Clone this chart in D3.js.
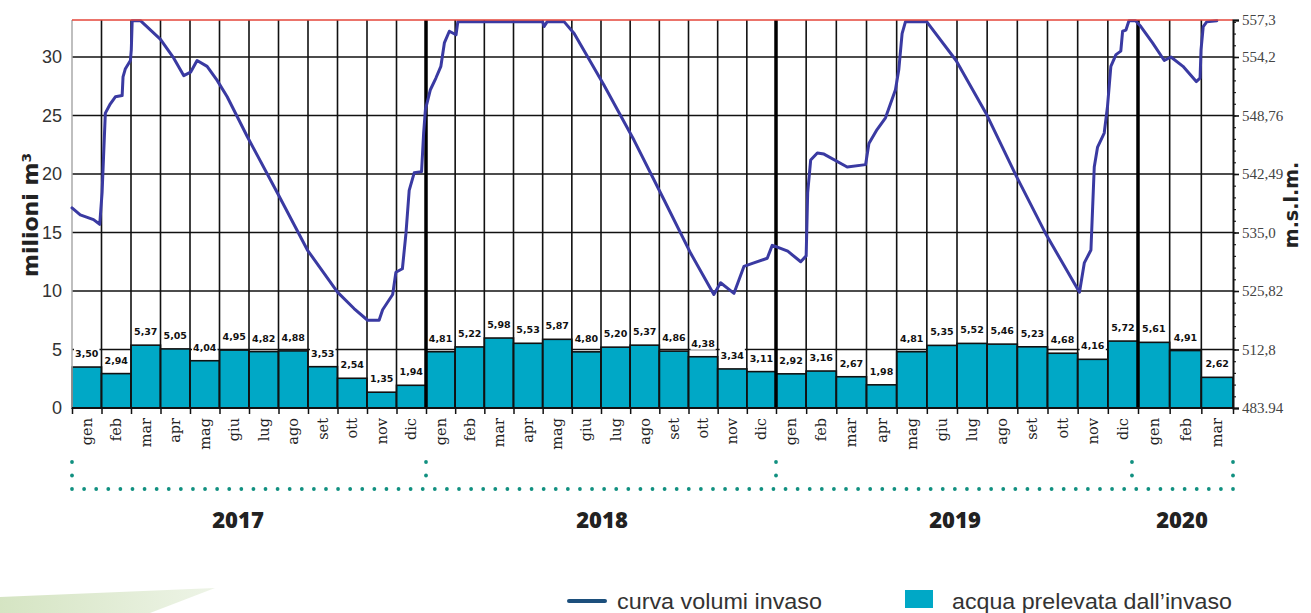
<!DOCTYPE html>
<html>
<head>
<meta charset="utf-8">
<script src="https://cdn.jsdelivr.net/npm/d3@7"></script>
<style>
  html, body { margin: 0; padding: 0; background: #fff; }
  svg { display: block; }
</style>
</head>
<body>
<svg id="chart" width="1311" height="613"></svg>
<script>
// Monthly labels, Jan 2017 – Mar 2020
const months = ["gen","feb","mar","apr","mag","giu","lug","ago","set","ott","nov","dic",
                "gen","feb","mar","apr","mag","giu","lug","ago","set","ott","nov","dic",
                "gen","feb","mar","apr","mag","giu","lug","ago","set","ott","nov","dic",
                "gen","feb","mar"];
const years = ["2017", "2018", "2019", "2020"];
const yearStart = [0, 12, 24, 36];

// Water drawn from the reservoir each month (million m³)
const withdrawn = [3.50, 2.94, 5.37, 5.05, 4.04, 4.95, 4.82, 4.88, 3.53, 2.54, 1.35, 1.94,
                   4.81, 5.22, 5.98, 5.53, 5.87, 4.80, 5.20, 5.37, 4.86, 4.38, 3.34, 3.11,
                   2.92, 3.16, 2.67, 1.98, 4.81, 5.35, 5.52, 5.46, 5.23, 4.68, 4.16, 5.72,
                   5.61, 4.91, 2.62];

// Stored volume curve: position in months from Jan 2017, volume in million m³
const curveMonth = [0, 0.28, 0.73, 0.94, 1.02, 1.07, 1.13, 1.30, 1.47, 1.70, 1.73, 1.81, 1.98, 2.01, 2.04, 2.32,
  3.0, 3.45, 3.79, 4.02, 4.24, 4.58, 4.92, 5.26, 5.94, 6.96, 7.98, 9.0, 9.56, 10.02, 10.41, 10.53,
  10.87, 10.98, 11.2, 11.32, 11.43, 11.6, 11.85, 11.92, 11.98,
  12.15, 12.34, 12.51, 12.63, 12.80, 13.03, 13.09, 16.0, 16.05, 16.15, 16.74, 17.08, 18.1, 19.13,
  20.16, 21.08, 21.87, 22.1, 22.56, 22.9, 23.24, 23.7, 23.87, 24.0,
  24.39, 24.82, 25.0, 25.05, 25.15, 25.37, 25.59, 26.36, 26.97, 27.08, 27.35, 27.63, 27.96, 28.07,
  28.18, 28.29, 29.0, 29.97, 30.96, 31.97, 32.96, 34.06, 34.22, 34.44, 34.55, 34.66, 34.88, 34.99,
  35.1, 35.27, 35.43, 35.49, 35.6, 35.7, 35.92,
  36.09, 36.46, 36.83, 37.04, 37.42, 37.84, 37.96, 37.99, 38.06, 38.17, 38.49];
const curveVolume = [17.1, 16.5, 16.1, 15.7, 18.4, 21.5, 25.2, 26.0, 26.6, 26.7, 28.3, 29.0, 29.7, 30.6, 33.1, 33.1,
  31.5, 29.9, 28.4, 28.7, 29.7, 29.2, 28.0, 26.6, 23.2, 18.4, 13.5, 9.9, 8.5, 7.5, 7.5, 8.4,
  9.7, 11.6, 11.9, 14.9, 18.6, 20.1, 20.2, 23.5, 25.5,
  27.2, 28.2, 29.2, 31.2, 32.2, 31.9, 33.0, 33.0, 32.6, 33.0, 33.0, 32.0, 27.6, 22.9,
  17.8, 13.2, 9.7, 10.7, 9.8, 12.1, 12.4, 12.8, 13.9, 13.8,
  13.4, 12.5, 13.0, 18.4, 21.2, 21.8, 21.7, 20.6, 20.8, 22.6, 23.8, 24.8, 27.2, 28.9,
  32.0, 33.0, 33.0, 29.7, 25.2, 19.8, 14.8, 9.9, 12.4, 13.5, 20.6, 22.3, 23.5, 25.8,
  29.2, 30.2, 30.5, 32.2, 32.3, 33.1, 33.1,
  32.6, 31.2, 29.7, 30.0, 29.2, 27.9, 28.2, 30.6, 32.6, 33.0, 33.1];

// Axis ticks
const leftTicks = [0, 5, 10, 15, 20, 25, 30];
const topVolume = 33.16;
const rightTicks = [0, 5, 10, 15, 20, 25, 30, topVolume];
const rightLabels = ["483.94", "512,8", "525,82", "535,0", "542,49", "548,76", "554,2", "557,3"];

const TEAL = "#00a8c6";
const CURVE = "#3a3aa2";
const DOT = "#119080";

const svg = d3.select("#chart");

// soft green corner swoosh
const defs = svg.append("defs");
const grad = defs.append("linearGradient").attr("id", "swoosh").attr("x1", "0").attr("x2", "1").attr("y1", "0").attr("y2", "0");
grad.append("stop").attr("offset", "0%").attr("stop-color", "#c3d9a9");
grad.append("stop").attr("offset", "100%").attr("stop-color", "#e6efdc");
svg.append("path").attr("d", "M0,597 L215,588 L150,613 L0,613 Z").attr("fill", "url(#swoosh)").attr("opacity", 0.7);

// Scales: columns are hand-spaced per year, so the month scale is piecewise linear
const x = d3.scaleLinear().domain([0, 12, 24, 36, 39]).range([72, 426, 776, 1138, 1233]);
const y = d3.scaleLinear().domain([0, topVolume]).range([408, 20]);

const left = x(0), right = x(39);

// horizontal gridlines
svg.append("g").selectAll("line").data(leftTicks.filter(d => d > 0)).join("line")
  .attr("x1", left).attr("x2", right)
  .attr("y1", d => y(d)).attr("y2", d => y(d))
  .attr("stroke", "#111").attr("stroke-width", 1.6);

// withdrawn-water bars
svg.append("g").selectAll("rect").data(withdrawn).join("rect")
  .attr("x", (d, i) => x(i))
  .attr("width", (d, i) => x(i + 1) - x(i))
  .attr("y", d => y(d))
  .attr("height", d => y(0) - y(d))
  .attr("fill", TEAL)
  .attr("stroke", "#111").attr("stroke-width", 1.6);

// value labels above bars
const labels = svg.append("g");
labels.selectAll("rect").data(withdrawn).join("rect")
  .attr("x", (d, i) => x(i) + 2)
  .attr("width", (d, i) => x(i + 1) - x(i) - 4)
  .attr("y", d => y(d) - 21)
  .attr("height", 14)
  .attr("fill", "#fff");
labels.selectAll("text").data(withdrawn).join("text")
  .attr("x", (d, i) => (x(i) + x(i + 1)) / 2)
  .attr("y", d => y(d) - 10)
  .attr("text-anchor", "middle")
  .attr("font-family", "'DejaVu Sans', sans-serif")
  .attr("font-weight", "bold")
  .attr("font-size", 9.5)
  .attr("fill", "#111")
  .text(d => d.toFixed(2).replace(".", ","));

// vertical month separators
svg.append("g").selectAll("line").data(d3.range(1, 39).filter(i => !yearStart.includes(i))).join("line")
  .attr("x1", i => x(i)).attr("x2", i => x(i))
  .attr("y1", y(topVolume)).attr("y2", y(0))
  .attr("stroke", "#111").attr("stroke-width", 1.6);

// thick year separators
svg.append("g").selectAll("line").data(yearStart.slice(1)).join("line")
  .attr("x1", i => x(i)).attr("x2", i => x(i))
  .attr("y1", y(topVolume)).attr("y2", y(0))
  .attr("stroke", "#000").attr("stroke-width", 3.5);

// plot frame: light left edge, black baseline
svg.append("line").attr("x1", left).attr("x2", left).attr("y1", y(topVolume)).attr("y2", y(0))
  .attr("stroke", "#aaa").attr("stroke-width", 1.5);
svg.append("line").attr("x1", left).attr("x2", right).attr("y1", y(0)).attr("y2", y(0))
  .attr("stroke", "#111").attr("stroke-width", 2);

// volume curve
const curvePts = curveMonth.map((m, i) => [m, curveVolume[i]]);
svg.append("path").datum(curvePts)
  .attr("d", d3.line().x(d => x(d[0])).y(d => y(d[1])))
  .attr("fill", "none").attr("stroke", CURVE).attr("stroke-width", 3)
  .attr("stroke-linejoin", "round").attr("stroke-linecap", "round");

// maximum-level line
svg.append("line").attr("x1", left).attr("x2", right).attr("y1", y(topVolume)).attr("y2", y(topVolume))
  .attr("stroke", "#e5463a").attr("stroke-width", 1.6);

// left axis
const gL = svg.append("g").attr("transform", `translate(${left},0)`)
  .call(d3.axisLeft(y).tickValues(leftTicks).tickSize(0).tickPadding(10));
gL.select(".domain").remove();
gL.selectAll("text").attr("font-family", "'Liberation Sans Narrow', 'Liberation Sans', sans-serif")
  .attr("font-size", 18).attr("fill", "#333");

// right axis: minor ticks every unit, major ticks with level labels
const gRm = svg.append("g").attr("transform", `translate(${right},0)`)
  .call(d3.axisRight(y).tickValues(d3.range(1, 34)).tickSize(3).tickFormat(""));
gRm.select(".domain").remove();
gRm.selectAll("line").attr("stroke", "#222").attr("stroke-width", 1.2);
const gR = svg.append("g").attr("transform", `translate(${right},0)`)
  .call(d3.axisRight(y).tickValues(rightTicks).tickSize(6).tickPadding(3)
    .tickFormat((d, i) => rightLabels[i]));
gR.select(".domain").attr("stroke", "#111").attr("stroke-width", 2);
gR.selectAll("line").attr("stroke", "#111").attr("stroke-width", 1.6);
gR.selectAll("text").attr("font-family", "'Liberation Serif', serif")
  .attr("font-size", 15).attr("fill", "#444");

// bottom axis ticks and rotated month names
const gB = svg.append("g").attr("transform", `translate(0,${y(0)})`)
  .call(d3.axisBottom(x).tickValues(d3.range(0, 40)).tickSize(6).tickFormat(""));
gB.select(".domain").remove();
gB.selectAll("line").attr("stroke", "#111").attr("stroke-width", 1.5);

svg.append("g").selectAll("text").data(months).join("text")
  .attr("transform", (d, i) => `translate(${(x(i) + x(i + 1)) / 2 + 5},418) rotate(-90)`)
  .attr("text-anchor", "end")
  .attr("font-family", "'DejaVu Serif', serif")
  .attr("font-size", 14.5)
  .attr("fill", "#222")
  .text(d => d);

// axis titles
svg.append("text").attr("transform", "translate(38,215) rotate(-90)")
  .attr("text-anchor", "middle")
  .attr("font-family", "'DejaVu Sans', sans-serif").attr("font-weight", "bold")
  .attr("font-size", 22).attr("fill", "#222")
  .text("milioni m³");
svg.append("text").attr("transform", "translate(1298,205) rotate(-90)")
  .attr("text-anchor", "middle")
  .attr("font-family", "'DejaVu Sans', sans-serif").attr("font-weight", "bold")
  .attr("font-size", 19).attr("fill", "#222")
  .text("m.s.l.m.");

// dotted year brackets
const dotsG = svg.append("g").attr("fill", DOT);
const rowY = 489;
const dotPts = d3.range(left, right + 0.1, (right - left) / 96);
dotsG.selectAll("circle.row").data(dotPts).join("circle").attr("class", "row")
  .attr("cx", d => d).attr("cy", rowY).attr("r", 1.9);
const bracketX = [x(0), x(12), x(24), x(35.8), x(39)];
const stubs = [];
bracketX.forEach(bx => { stubs.push([bx, rowY - 13.5]); stubs.push([bx, rowY - 27]); });
dotsG.selectAll("circle.stub").data(stubs).join("circle").attr("class", "stub")
  .attr("cx", d => d[0]).attr("cy", d => d[1]).attr("r", 1.9);

// year labels
const yearCenter = [238, 602, 955, 1182];
svg.append("g").selectAll("text").data(years).join("text")
  .attr("x", (d, i) => yearCenter[i])
  .attr("y", 528)
  .attr("text-anchor", "middle")
  .attr("font-family", "'Open Sans', sans-serif").attr("font-weight", 800)
  .attr("font-size", 22).attr("fill", "#222")
  .text(d => d);

// legend
const lg = svg.append("g");
lg.append("line").attr("x1", 569).attr("x2", 605).attr("y1", 601).attr("y2", 601)
  .attr("stroke", "#1c4f7c").attr("stroke-width", 4).attr("stroke-linecap", "round");
lg.append("text").attr("x", 617).attr("y", 609)
  .attr("font-family", "'Liberation Sans Narrow', 'Liberation Sans', sans-serif")
  .attr("font-size", 22).attr("fill", "#333")
  .attr("textLength", 205).attr("lengthAdjust", "spacingAndGlyphs")
  .text("curva volumi invaso");
lg.append("rect").attr("x", 905).attr("y", 590).attr("width", 28).attr("height", 18).attr("fill", TEAL);
lg.append("text").attr("x", 952).attr("y", 609)
  .attr("font-family", "'Liberation Sans Narrow', 'Liberation Sans', sans-serif")
  .attr("font-size", 22).attr("fill", "#333")
  .attr("textLength", 280).attr("lengthAdjust", "spacingAndGlyphs")
  .text("acqua prelevata dall’invaso");
</script>
</body>
</html>
